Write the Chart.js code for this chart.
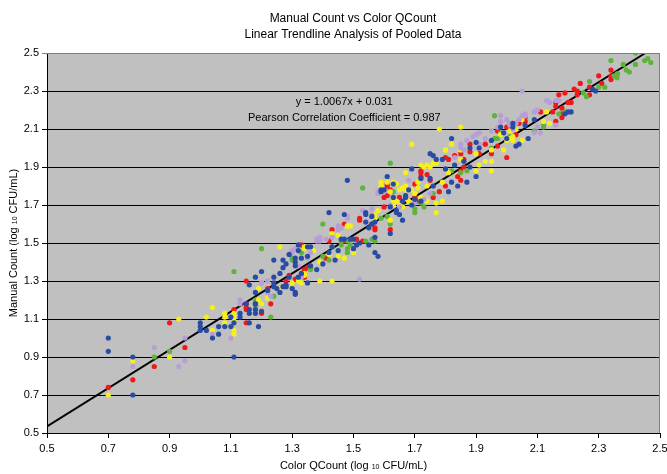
<!DOCTYPE html>
<html>
<head>
<meta charset="utf-8">
<script src="https://cdn.jsdelivr.net/npm/chart.js@4.4.1/dist/chart.umd.min.js"></script>
<style>
  html,body{margin:0;padding:0;background:#fff;}
  #wrap{width:667px;height:474px;}
</style>
</head>
<body>
<div id="wrap"><canvas id="c" width="667" height="474"></canvas></div>
<script>
// ---- Data ----
const titleLines = ["Manual Count vs Color QCount", "Linear Trendline Analysis of Pooled Data"];
const xTitleParts = ["Color QCount (log ", "10", " CFU/mL)"];
const yTitleParts = ["Manual Count (log ", "10", " CFU/mL)"];
const tickValues = [0.5, 0.7, 0.9, 1.1, 1.3, 1.5, 1.7, 1.9, 2.1, 2.3, 2.5];
const slope = 1.0067;
const intercept = 0.031;
const pearson = 0.987;

const blueSeries = [[0.70,1.00],[0.70,0.93],[0.78,0.90],[0.78,0.70],
[1.00,1.08],[1.00,1.06],[1.00,1.04],[1.02,1.04],[1.04,1.00],[1.06,1.06],[1.06,1.02],[1.08,1.06],[1.10,1.11],[1.10,1.06],[1.11,0.90],[1.11,1.08],[1.13,1.13],[1.16,1.15],[1.16,1.08],[1.18,1.18],[1.18,1.15],[1.19,1.06],
[1.20,1.35],[1.18,1.32],[1.16,1.28],[1.24,1.32],[1.24,1.41],[1.27,1.41],[1.28,1.39],[1.26,1.34],[1.29,1.44],[1.31,1.40],[1.31,1.38],[1.35,1.29],[1.27,1.27],[1.28,1.27],[1.26,1.24],[1.30,1.26],[1.31,1.23],[1.24,1.27],[1.22,1.25],[1.18,1.24],[1.18,1.18],[1.18,1.13],[1.16,1.13],[1.15,1.18],[1.20,1.14],[1.13,1.11],
[1.48,1.83],[1.61,1.85],[1.59,1.78],[1.63,1.81],[1.42,1.66],[1.47,1.65],[1.54,1.65],[1.54,1.61],[1.55,1.58],[1.56,1.60],[1.64,1.67],[1.65,1.65],[1.66,1.62],[1.57,1.53],[1.62,1.55],[1.55,1.49],[1.57,1.45],[1.45,1.46],[1.43,1.48],[1.42,1.45],[1.35,1.48],[1.32,1.49],[1.31,1.42],[1.33,1.42],[1.36,1.38],
[1.38,1.36],[1.40,1.39],[1.44,1.41],[1.50,1.47],[1.52,1.50],
[1.82,2.05],[1.76,1.96],[1.98,2.11],[2.00,2.05],[2.04,2.02],[1.95,2.04],[1.90,1.85],[1.87,1.82],[1.84,1.80],[1.81,1.77],[1.88,1.90],[1.83,1.91],[1.86,1.93],[1.80,1.89],[1.82,1.82],[1.69,1.89],[1.75,1.84],[1.72,1.84],[1.76,1.80],[1.68,1.78],[1.67,1.75],[1.72,1.72],[1.70,1.73],[1.67,1.74],
[2.28,2.31],[2.29,2.30],[2.21,2.19],[2.19,2.18],[2.20,2.19],[2.02,2.13],[2.06,2.12],[2.07,2.05],[2.03,2.01],[1.58,1.43],[1.31,1.24],
[1.75,1.97],[1.77,1.94],[1.79,1.94],[1.88,2.00],[1.91,2.00],[1.90,2.03],[1.99,2.08],[2.02,2.11],[2.09,2.15],
[1.60,1.78],[1.63,1.74],[1.66,1.72],[1.69,1.70],
[1.46,1.52],[1.47,1.52],[1.49,1.52],[1.50,1.52],[1.51,1.49],[1.54,1.66],[1.56,1.64],[1.57,1.61],[1.59,1.77],[1.62,1.69],[1.64,1.66],
[1.32,1.46],[1.35,1.43],[1.36,1.48],[1.27,1.37],[1.29,1.32],[1.32,1.32],[1.33,1.34],[1.24,1.29],[1.25,1.26],[1.28,1.28]];

const lavenderSeries = [[0.78,0.85],[0.85,0.95],[0.93,0.85],[0.95,1.00],[0.95,0.88],[1.04,1.02],[1.10,1.00],[1.13,1.20],
[1.20,1.29],[1.22,1.30],[1.30,1.45],[1.31,1.47],[1.32,1.38],[1.22,1.24],[1.23,1.22],[1.13,1.18],
[1.58,1.77],[1.60,1.77],[1.48,1.64],[1.53,1.67],[1.56,1.65],[1.45,1.59],[1.45,1.57],[1.43,1.53],[1.38,1.51],[1.39,1.51],[1.30,1.46],[1.35,1.42],[1.36,1.45],[1.52,1.31],
[1.98,2.17],[2.00,2.15],[2.01,2.12],[2.03,2.13],[2.02,2.10],[1.95,2.09],[1.93,2.05],[1.91,2.02],[1.90,2.07],[1.85,2.02],[1.86,1.99],[1.83,1.95],[1.85,2.00],[1.68,1.83],[1.75,1.76],[1.73,1.73],[1.70,1.71],
[2.05,2.30],[2.13,2.25],[2.14,2.24],[2.16,2.25],[2.17,2.25],[2.09,2.19],[2.06,2.18],[2.05,2.17],[2.06,2.17],[2.10,2.20],[2.10,2.11],[2.16,2.12],[2.11,2.08],[2.09,2.08],
[1.87,2.04],[1.89,2.06],[1.91,2.08],[1.97,2.11],[1.98,2.14],[2.01,2.13],[2.04,2.15],[2.06,2.17],[2.09,2.19],
[1.65,1.69],[1.62,1.70],
[1.38,1.52],[1.39,1.53],[1.41,1.52],[1.46,1.58],[1.48,1.63],[1.56,1.68],[1.58,1.76],
[1.33,1.32],[1.39,1.52],[1.20,1.29],[1.13,1.20]];

const yellowSeries = [[0.70,0.70],[0.78,0.88],[0.90,0.90],[0.93,1.10],[1.02,1.11],[1.04,1.16],[1.04,1.04],[1.08,1.13],[1.08,1.08],[1.11,1.11],[1.11,1.04],[1.11,1.02],
[1.26,1.48],[1.34,1.47],[1.34,1.33],[1.33,1.29],[1.30,1.29],[1.26,1.26],[1.22,1.21],[1.20,1.18],[1.19,1.26],[1.11,1.13],[1.08,1.11],[1.11,1.09],
[1.59,1.82],[1.63,1.82],[1.64,1.81],[1.66,1.79],[1.67,1.78],[1.67,1.87],[1.62,1.77],[1.64,1.72],[1.63,1.71],[1.48,1.59],[1.49,1.59],[1.56,1.65],[1.58,1.67],[1.62,1.62],[1.66,1.69],[1.50,1.45],[1.47,1.42],[1.45,1.43],[1.42,1.44],[1.34,1.48],[1.37,1.46],[1.43,1.30],[1.39,1.30],
[1.85,2.11],[1.78,2.10],[1.69,2.02],[2.01,2.09],[1.99,1.99],[1.95,1.99],[1.95,1.93],[1.90,1.97],[1.93,1.93],[1.91,1.91],[1.95,1.88],[1.90,1.88],[1.80,1.99],[1.76,1.92],[1.77,1.92],[1.81,1.87],[1.79,1.82],[1.77,1.71],[1.77,1.66],[1.72,1.91],[1.73,1.90],[1.71,1.82],[1.74,1.80],[1.69,1.78],[1.79,1.72],[1.71,1.79],[1.68,1.72],[1.72,1.73],[1.74,1.72],[1.65,1.70],
[2.13,2.19],[2.12,2.14],[2.14,2.13],[2.05,2.15],[2.03,2.10],[2.02,2.04],[2.05,2.04],[2.01,2.05],
[1.74,1.91],[1.75,1.90],[1.76,1.92],[1.80,1.99],[1.82,2.02],[1.85,1.99],[1.85,1.94],[1.95,2.04],[1.98,2.07],[2.00,2.04],[2.02,2.06],
[1.59,1.80],[1.61,1.82],[1.63,1.81],[1.65,1.78],[1.67,1.80],[1.70,1.76],[1.72,1.74],
[1.41,1.52],[1.43,1.55],[1.45,1.54],[1.48,1.59],[1.57,1.65],[1.57,1.63],[1.63,1.72],[1.63,1.70],
[1.34,1.34],[1.39,1.40],[1.32,1.30],[1.19,1.20]];

const greenSeries = [[0.85,0.90],[0.90,0.93],[1.18,1.20],[1.20,1.47],[1.11,1.35],[1.33,1.45],[1.24,1.22],[1.18,1.17],[1.23,1.11],
[1.62,1.92],[1.53,1.79],[1.63,1.77],[1.67,1.74],[1.40,1.60],[1.59,1.63],[1.62,1.60],[1.49,1.49],[1.46,1.49],[1.48,1.51],[1.48,1.45],[1.30,1.42],
[1.96,2.17],[1.98,2.08],[2.01,2.06],[1.97,2.05],[1.82,1.88],[1.85,1.87],[1.87,1.88],[1.76,1.76],[1.70,1.68],[1.70,1.66],
[2.42,2.50],[2.45,2.46],[2.46,2.47],[2.47,2.45],[2.42,2.44],[2.34,2.46],[2.38,2.44],[2.39,2.41],[2.40,2.40],[2.36,2.39],[2.35,2.38],[2.36,2.37],[2.27,2.35],[2.32,2.32],[2.30,2.32],[2.26,2.27],[2.25,2.29],[2.01,2.13],[2.17,2.18],[2.19,2.19],[2.09,2.09],[2.12,2.11],[2.12,2.12],
[1.96,2.05],[1.95,2.00],[1.72,1.71],[1.73,1.69],
[1.46,1.51],[1.48,1.47],[1.54,1.51],[1.56,1.52],[1.57,1.51],[1.61,1.64],
[1.30,1.41],[1.40,1.43],[1.42,1.41],[1.36,1.36],[1.43,1.48]];

const redSeries = [[0.70,0.74],[0.78,0.78],[0.85,0.85],[0.90,1.08],[0.95,0.95],[1.11,1.15],[1.15,1.16],[1.15,1.18],[1.15,1.08],
[1.15,1.30],[1.33,1.49],[1.34,1.36],[1.34,1.32],[1.28,1.30],[1.22,1.26],[1.23,1.18],[1.15,1.15],[1.20,1.13],
[1.61,1.81],[1.62,1.78],[1.61,1.75],[1.52,1.63],[1.47,1.60],[1.43,1.57],[1.56,1.64],[1.56,1.60],[1.57,1.58],[1.60,1.69],[1.62,1.57],[1.53,1.51],[1.51,1.52],[1.42,1.51],[1.41,1.42],[1.47,1.51],
[2.03,2.13],[2.00,2.11],[1.97,2.09],[1.88,2.02],[1.88,1.98],[1.91,1.97],[2.00,1.95],[1.95,1.97],[1.85,1.97],[1.86,1.90],[1.81,1.94],[1.85,1.83],[1.84,1.85],[1.72,1.87],[1.74,1.86],[1.75,1.83],[1.78,1.77],[1.80,1.80],[1.85,1.88],[1.76,1.74],[1.70,1.74],
[2.34,2.41],[2.36,2.39],[2.34,2.38],[2.34,2.36],[2.30,2.38],[2.31,2.34],[2.24,2.34],[2.27,2.32],[2.22,2.31],[2.17,2.28],[2.19,2.29],[2.23,2.30],[2.23,2.28],[2.27,2.28],[2.20,2.24],[2.21,2.24],[2.16,2.24],[2.16,2.22],[2.18,2.21],[2.11,2.19],[2.06,2.16],[2.06,2.14],[2.04,2.13],[2.15,2.19],[2.16,2.14],[2.18,2.16],[2.18,2.18],[2.01,2.10],[2.03,2.07],
[1.72,1.88],[1.72,1.85],[1.70,1.81],[1.80,1.95],[1.83,1.96],[1.86,1.94],[1.93,2.02],[1.97,2.01],
[1.60,1.74],[1.65,1.74],[1.71,1.72],
[1.52,1.62],[1.57,1.57],[1.61,1.80],
[1.35,1.37],[1.36,1.37],[1.31,1.31],[1.29,1.33]];

// ---- Build chart ----
const FONT = "'Liberation Sans', Arial, sans-serif";
const toPts = arr => arr.map(p => ({x: p[0], y: p[1]}));
const trendX0 = tickValues[0];
const trendX1 = (tickValues[tickValues.length - 1] - intercept) / slope;
const trendData = [trendX0, trendX1].map(x => ({x: x, y: slope * x + intercept}));

function scatterSet(label, arr, color) {
  return {type: 'scatter', label, data: toPts(arr), backgroundColor: color, borderWidth: 0,
          pointRadius: 2.6, pointHoverRadius: 2.6, pointBorderWidth: 0};
}

function drawMixed(ctx, parts, cx, cy) {
  const big = "11px " + FONT, small = "7px " + FONT;
  const fonts = [big, small, big];
  let widths = parts.map((t, i) => { ctx.font = fonts[i]; return ctx.measureText(t).width; });
  const total = widths.reduce((a, b) => a + b, 0);
  let x = cx - total / 2;
  ctx.textBaseline = 'middle';
  ctx.textAlign = 'left';
  parts.forEach((t, i) => {
    ctx.font = fonts[i];
    ctx.fillText(t, x, cy + (i === 1 ? 1 : 0));
    x += widths[i];
  });
}

const decor = {
  id: 'decor',
  beforeDraw(chart) {
    const {ctx, chartArea: a} = chart;
    ctx.save();
    ctx.fillStyle = '#ffffff';
    ctx.fillRect(0, 0, chart.width, chart.height);
    ctx.fillStyle = '#c0c0c0';
    ctx.fillRect(a.left, a.top, a.right - a.left, a.bottom - a.top);
    ctx.restore();
  },
  afterDraw(chart) {
    const {ctx, chartArea: a, scales} = chart;
    ctx.save();
    ctx.strokeStyle = '#808080';
    ctx.lineWidth = 1;
    ctx.beginPath();
    ctx.moveTo(a.left, a.top + 0.5);
    ctx.lineTo(a.right - 0.5, a.top + 0.5);
    ctx.lineTo(a.right - 0.5, a.bottom);
    ctx.stroke();
    ctx.fillStyle = '#000';
    ctx.font = "12px " + FONT;
    ctx.textAlign = 'center';
    ctx.textBaseline = 'middle';
    ctx.fillText(titleLines[0], 353, 19);
    ctx.fillText(titleLines[1], 353, 35);
    ctx.font = "11px " + FONT;
    const ex = scales.x.getPixelForValue(1.47);
    ctx.fillText("y = " + slope.toFixed(4) + "x + " + intercept.toFixed(3), ex, scales.y.getPixelForValue(2.244));
    ctx.fillText("Pearson Correlation Coefficient = " + pearson.toFixed(3), ex, scales.y.getPixelForValue(2.159));
    drawMixed(ctx, xTitleParts, (a.left + a.right) / 2, 466);
    ctx.translate(14, (a.top + a.bottom) / 2);
    ctx.rotate(-Math.PI / 2);
    drawMixed(ctx, yTitleParts, 0, 0);
    ctx.restore();
  }
};

const tickCb = v => Number(v).toFixed(1);

new Chart(document.getElementById('c'), {
  data: {
    datasets: [
      scatterSet('Blue', blueSeries, '#2a4ba3'),
      scatterSet('Lavender', lavenderSeries, '#b89ed6'),
      scatterSet('Yellow', yellowSeries, '#f6f01a'),
      scatterSet('Green', greenSeries, '#5fb23c'),
      scatterSet('Red', redSeries, '#f01818'),
      {type: 'line', label: 'Trendline', data: trendData, borderColor: '#000', borderWidth: 2,
       pointRadius: 0, fill: false, tension: 0}
    ]
  },
  options: {
    responsive: false,
    animation: false,
    events: [],
    layout: {padding: {top: 53, right: 7, left: 0, bottom: 0}},
    plugins: {legend: {display: false}, title: {display: false}, tooltip: {enabled: false}},
    scales: {
      x: {
        type: 'linear', min: 0.5, max: 2.5,
        afterBuildTicks: s => { s.ticks = tickValues.map(v => ({value: v})); },
        afterFit: s => { s.height = 41; s.paddingLeft = 0; s.paddingRight = 0; },
        ticks: {callback: tickCb, color: '#000', font: {family: FONT, size: 11}, padding: 4, maxRotation: 0, autoSkip: false},
        grid: {drawOnChartArea: false, drawTicks: true, tickLength: 5, color: '#000'},
        border: {display: true, color: '#000', width: 1}
      },
      y: {
        type: 'linear', min: 0.5, max: 2.5,
        afterBuildTicks: s => { s.ticks = tickValues.map(v => ({value: v})); },
        afterFit: s => { s.width = 47; },
        ticks: {callback: tickCb, color: '#000', font: {family: FONT, size: 11}, padding: 3, autoSkip: false},
        grid: {drawOnChartArea: true, drawTicks: true, tickLength: 5,
               color: c => (c.tick && c.tick.value >= 2.49) ? '#808080' : '#000'},
        border: {display: true, color: '#000', width: 1}
      }
    }
  },
  plugins: [decor]
});
</script>
</body>
</html>
